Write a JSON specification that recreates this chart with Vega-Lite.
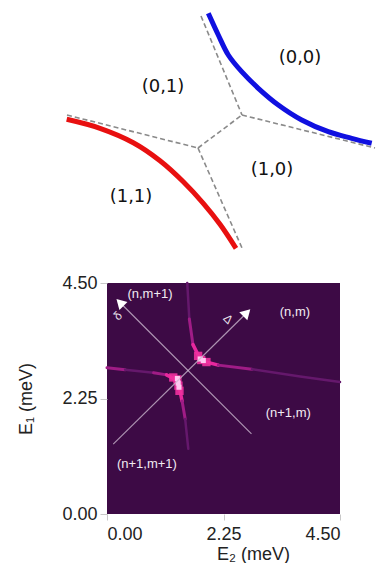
{
  "$schema": "https://vega.github.io/schema/vega-lite/v6.json",
  "padding": {"left": 17, "top": 0, "right": 0, "bottom": 0},
  "spacing": 12,
  "background": "white",
  "config": {"view": {"stroke": null}, "font": "Liberation Sans"},
  "datasets": {
    "dashed": [
      {"seg": "s1", "i": 0, "u": 18.4, "v": 24.6}, {"seg": "s1", "i": 1, "u": 22.5, "v": 14.7},
      {"seg": "s2", "i": 0, "u": 22.5, "v": 14.7}, {"seg": "s2", "i": 1, "u": 35.8, "v": 11.4},
      {"seg": "s3", "i": 0, "u": 5.0, "v": 14.7}, {"seg": "s3", "i": 1, "u": 18.1, "v": 11.4},
      {"seg": "s4", "i": 0, "u": 18.1, "v": 11.4}, {"seg": "s4", "i": 1, "u": 22.5, "v": 14.7},
      {"seg": "s5", "i": 0, "u": 18.1, "v": 11.4}, {"seg": "s5", "i": 1, "u": 22.5, "v": 1.4}
    ],
    "blue": [
      {"u": 19.13, "v": 24.87}, {"u": 20.13, "v": 22.7}, {"u": 21.13, "v": 20.7}, {"u": 22.47, "v": 19.03},
      {"u": 24.13, "v": 17.37}, {"u": 26.13, "v": 15.7}, {"u": 28.47, "v": 14.2}, {"u": 31.13, "v": 13.03},
      {"u": 33.47, "v": 12.37}, {"u": 35.47, "v": 11.87}
    ],
    "red": [
      {"u": 4.97, "v": 14.27}, {"u": 8.3, "v": 13.37}, {"u": 11.63, "v": 11.93}, {"u": 14.3, "v": 10.13},
      {"u": 16.63, "v": 8.03}, {"u": 18.63, "v": 5.87}, {"u": 20.3, "v": 3.77}, {"u": 21.9, "v": 1.37}
    ],
    "toplabels": [
      {"u": 28.3, "v": 20.4, "t": "(0,0)"}, {"u": 14.6, "v": 17.5, "t": "(0,1)"},
      {"u": 25.5, "v": 9.2, "t": "(1,0)"}, {"u": 11.4, "v": 6.5, "t": "(1,1)"}
    ],
    "streaks": [
      {"seg": "u1", "tone": "faint", "i": 0, "E2": 1.55, "E1": 4.50}, {"seg": "u1", "tone": "faint", "i": 1, "E2": 1.59, "E1": 3.80},
      {"seg": "u2", "tone": "mid", "i": 0, "E2": 1.59, "E1": 3.80}, {"seg": "u2", "tone": "mid", "i": 1, "E2": 1.66, "E1": 3.30},
      {"seg": "u3", "tone": "bright", "i": 0, "E2": 1.66, "E1": 3.30}, {"seg": "u3", "tone": "bright", "i": 1, "E2": 1.80, "E1": 3.02},
      {"seg": "r1", "tone": "bright", "i": 0, "E2": 1.84, "E1": 2.98}, {"seg": "r1", "tone": "bright", "i": 1, "E2": 2.15, "E1": 2.90},
      {"seg": "r2", "tone": "mid", "i": 0, "E2": 2.15, "E1": 2.90}, {"seg": "r2", "tone": "mid", "i": 1, "E2": 2.80, "E1": 2.82},
      {"seg": "r3", "tone": "faint", "i": 0, "E2": 2.80, "E1": 2.82}, {"seg": "r3", "tone": "faint", "i": 1, "E2": 3.73, "E1": 2.68}, {"seg": "r3", "tone": "faint", "i": 2, "E2": 4.50, "E1": 2.57},
      {"seg": "l1", "tone": "mid", "i": 0, "E2": 0.00, "E1": 2.85}, {"seg": "l1", "tone": "mid", "i": 1, "E2": 0.35, "E1": 2.81},
      {"seg": "l2", "tone": "faint", "i": 0, "E2": 0.35, "E1": 2.81}, {"seg": "l2", "tone": "faint", "i": 1, "E2": 0.90, "E1": 2.75},
      {"seg": "l3", "tone": "mid", "i": 0, "E2": 0.90, "E1": 2.75}, {"seg": "l3", "tone": "mid", "i": 1, "E2": 1.15, "E1": 2.71},
      {"seg": "l4", "tone": "bright", "i": 0, "E2": 1.15, "E1": 2.71}, {"seg": "l4", "tone": "bright", "i": 1, "E2": 1.36, "E1": 2.60},
      {"seg": "d1", "tone": "bright", "i": 0, "E2": 1.38, "E1": 2.55}, {"seg": "d1", "tone": "bright", "i": 1, "E2": 1.45, "E1": 2.20},
      {"seg": "d2", "tone": "mid", "i": 0, "E2": 1.45, "E1": 2.20}, {"seg": "d2", "tone": "mid", "i": 1, "E2": 1.51, "E1": 1.85},
      {"seg": "d3", "tone": "faint", "i": 0, "E2": 1.51, "E1": 1.85}, {"seg": "d3", "tone": "faint", "i": 1, "E2": 1.57, "E1": 1.27}
    ],
    "glow": [
      {"E2": 1.82, "E1": 3.00}, {"E2": 1.76, "E1": 3.08}, {"E2": 1.92, "E1": 2.96},
      {"E2": 1.36, "E1": 2.62}, {"E2": 1.38, "E1": 2.50}, {"E2": 1.40, "E1": 2.40}, {"E2": 1.28, "E1": 2.66}
    ],
    "hot": [
      {"E2": 1.80, "E1": 3.02}, {"E2": 1.86, "E1": 2.99},
      {"E2": 1.36, "E1": 2.64}, {"E2": 1.375, "E1": 2.55}, {"E2": 1.39, "E1": 2.47}
    ],
    "diag": [
      {"a": "A", "E2": 0.12, "E1": 1.36, "E2b": 2.70, "E1b": 3.92},
      {"a": "B", "E2": 2.79, "E1": 1.56, "E2b": 0.25, "E1b": 4.12}
    ],
    "arrows": [
      {"a": "A", "E2": 2.70, "E1": 3.92},
      {"a": "B", "E2": 0.25, "E1": 4.12}
    ],
    "innerlabels": [
      {"E2": 0.83, "E1": 4.29, "t": "(n,m+1)"}, {"E2": 3.63, "E1": 3.94, "t": "(n,m)"},
      {"E2": 3.50, "E1": 1.97, "t": "(n+1,m)"}, {"E2": 0.77, "E1": 0.97, "t": "(n+1,m+1)"}
    ],
    "greek": [
      {"E2": 2.34, "E1": 3.80, "t": "Δ", "a": "A"},
      {"E2": 0.21, "E1": 3.86, "t": "δ", "a": "B"}
    ]
  },
  "vconcat": [
    {
      "width": 276,
      "height": 262,
      "layer": [
        {
          "data": {"name": "dashed"},
          "mark": {"type": "line", "stroke": "#8a8a8a", "strokeWidth": 1.6, "strokeDash": [5, 3], "clip": false},
          "encoding": {
            "x": {"field": "u", "type": "quantitative", "scale": {"domain": [9, 36.6], "nice": false, "zero": false}, "axis": null},
            "y": {"field": "v", "type": "quantitative", "scale": {"domain": [0, 26.2], "nice": false, "zero": false}, "axis": null},
            "detail": {"field": "seg"},
            "order": {"field": "i"}
          }
        },
        {
          "data": {"name": "blue"},
          "mark": {"type": "line", "stroke": "#1010e0", "strokeWidth": 5, "interpolate": "catmull-rom", "clip": false},
          "encoding": {
            "x": {"field": "u", "type": "quantitative"},
            "y": {"field": "v", "type": "quantitative"}
          }
        },
        {
          "data": {"name": "red"},
          "mark": {"type": "line", "stroke": "#e81010", "strokeWidth": 5, "interpolate": "catmull-rom", "clip": false},
          "encoding": {
            "x": {"field": "u", "type": "quantitative"},
            "y": {"field": "v", "type": "quantitative"}
          }
        },
        {
          "data": {"name": "toplabels"},
          "mark": {"type": "text", "font": "DejaVu Sans", "fontSize": 18, "color": "#111", "clip": false},
          "encoding": {
            "x": {"field": "u", "type": "quantitative"},
            "y": {"field": "v", "type": "quantitative"},
            "text": {"field": "t"}
          }
        }
      ]
    },
    {
      "width": 233,
      "height": 231,
      "view": {"fill": "#3d0a45"},
      "encoding": {
        "x": {"field": "E2", "type": "quantitative",
          "scale": {"domain": [0, 4.5], "nice": false, "zero": false},
          "axis": {"values": [0, 2.25, 4.5], "format": ".2f", "labelFlush": true, "domain": false, "grid": false,
            "tickSize": 6, "tickColor": "#c8c8c8", "labelFontSize": 18, "labelColor": "#222", "labelPadding": 5,
            "title": "E₂ (meV)", "titleFontSize": 18, "titleFontWeight": "normal", "titleColor": "#222", "titlePadding": 2, "titleX": 146}},
        "y": {"field": "E1", "type": "quantitative",
          "scale": {"domain": [0, 4.5], "nice": false, "zero": false},
          "axis": {"values": [0, 2.25, 4.5], "format": ".2f", "domain": false, "grid": false,
            "tickSize": 7, "tickColor": "#c8c8c8", "labelFontSize": 18, "labelColor": "#222", "labelPadding": 3,
            "title": "E₁ (meV)", "titleFontSize": 18, "titleFontWeight": "normal", "titleColor": "#222", "titlePadding": 26}}
      },
      "layer": [
        {
          "data": {"name": "streaks"},
          "mark": {"type": "line", "strokeCap": "round"},
          "encoding": {
            "detail": {"field": "seg"},
            "order": {"field": "i"},
            "color": {"field": "tone", "type": "nominal", "legend": null,
              "scale": {"domain": ["faint", "mid", "bright"], "range": ["#65186c", "#a01c86", "#e8289e"]}},
            "strokeWidth": {"field": "tone", "type": "nominal", "legend": null,
              "scale": {"domain": ["faint", "mid", "bright"], "range": [2.5, 3.5, 4.5]}}
          }
        },
        {
          "data": {"name": "glow"},
          "mark": {"type": "square", "filled": true, "color": "#f0309f", "size": 70, "opacity": 0.9},
          "encoding": {}
        },
        {
          "data": {"name": "hot"},
          "mark": {"type": "square", "filled": true, "color": "#ffc6f0", "size": 26, "opacity": 1},
          "encoding": {}
        },
        {
          "data": {"name": "diag"},
          "mark": {"type": "rule", "color": "#c9b6cd", "strokeWidth": 1.2, "opacity": 0.8},
          "encoding": {
            "x2": {"field": "E2b"},
            "y2": {"field": "E1b"}
          }
        },
        {
          "data": {"name": "arrows"},
          "mark": {"type": "point", "shape": "triangle-up", "filled": true, "color": "white", "opacity": 1, "size": 130},
          "encoding": {
            "angle": {"field": "a", "type": "nominal", "legend": null, "scale": {"domain": ["A", "B"], "range": [45, 315]}}
          }
        },
        {
          "data": {"name": "innerlabels"},
          "mark": {"type": "text", "color": "#f2eaf2", "fontSize": 13},
          "encoding": {"text": {"field": "t"}}
        },
        {
          "data": {"name": "greek"},
          "mark": {"type": "text", "color": "#e8e0ea", "fontSize": 12},
          "encoding": {"text": {"field": "t"},
            "angle": {"field": "a", "type": "nominal", "legend": null, "scale": {"domain": ["A", "B"], "range": [95, 135]}}}
        }
      ]
    }
  ]
}
